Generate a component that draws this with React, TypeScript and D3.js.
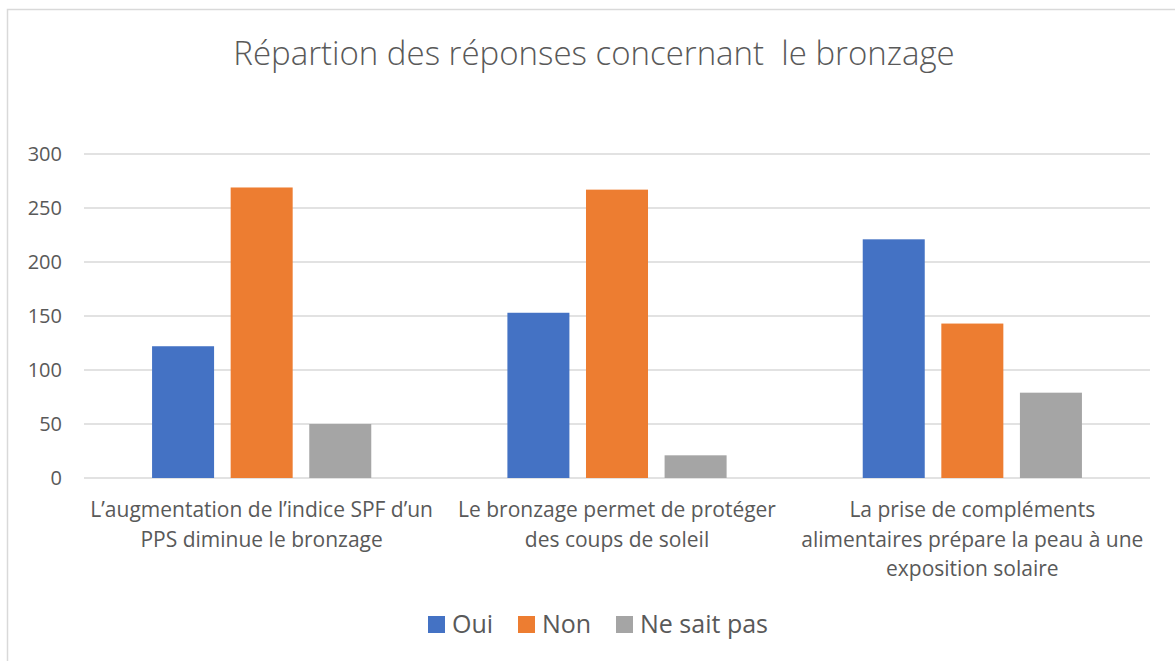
import React, { useRef, useEffect } from 'react';
import * as d3 from 'd3';

const W = 1175;
const H = 661;

const categories = [
  ["L’augmentation de l’indice SPF d’un", "PPS diminue le bronzage"],
  ["Le bronzage permet de protéger", "des coups de soleil"],
  ["La prise de compléments", "alimentaires prépare la peau à une", "exposition solaire"]
];
const seriesNames = ["Oui", "Non", "Ne sait pas"];
const oui = [122, 153, 221];
const non = [269, 267, 143];
const neSaitPas = [50, 21, 79];
const yTicks = [0, 50, 100, 150, 200, 250, 300];
const colors = ["#4472c4", "#ed7d31", "#a5a5a5"];

const FONT = "'Open Sans', 'Noto Sans', sans-serif";
const TEXT = "#595959";

const App = () => {
  const ref = useRef<SVGSVGElement>(null);

  useEffect(() => {
    const svg = d3.select(ref.current);
    svg.selectAll('*').remove();

    const plot = { left: 84, right: 1150, top: 154, bottom: 478 };
    const values = [oui, non, neSaitPas];
    const idx = categories.map((_, i) => i);

    const x = d3.scaleBand<number>().domain(idx).range([plot.left, plot.right]);
    const xInner = d3.scaleBand<number>()
      .domain([0, 1, 2])
      .range([0, x.bandwidth()])
      .paddingInner(0.211)
      .paddingOuter(0.866);
    const y = d3.scaleLinear().domain([0, 300]).range([plot.bottom, plot.top]);

    // chart frame
    svg.append('path')
      .attr('d', `M7.5,${H} V9.5 H${W}`)
      .attr('fill', 'none')
      .attr('stroke', '#d9d9d9')
      .attr('stroke-width', 1.5);

    svg.append('text')
      .attr('x', 594)
      .attr('y', 65)
      .attr('text-anchor', 'middle')
      .attr('font-family', FONT)
      .attr('font-weight', 300)
      .attr('font-size', 33)
      .attr('fill', TEXT)
      .style('white-space', 'pre')
      .text('Répartion des réponses concernant  le bronzage');

    // grid
    svg.append('g').selectAll('line')
      .data(yTicks)
      .enter().append('line')
      .attr('x1', plot.left)
      .attr('x2', plot.right)
      .attr('y1', d => y(d))
      .attr('y2', d => y(d))
      .attr('stroke', '#d9d9d9')
      .attr('stroke-width', 1.5);

    svg.append('g').selectAll('text')
      .data(yTicks)
      .enter().append('text')
      .attr('x', 62)
      .attr('y', d => y(d))
      .attr('dy', '0.36em')
      .attr('text-anchor', 'end')
      .attr('font-family', FONT)
      .attr('font-size', 20)
      .attr('fill', TEXT)
      .text(d => d);

    // bars
    values.forEach((vals, s) => {
      svg.append('g').selectAll('rect')
        .data(vals)
        .enter().append('rect')
        .attr('x', (d, i) => (x(i) as number) + (xInner(s) as number))
        .attr('y', d => y(d))
        .attr('width', xInner.bandwidth())
        .attr('height', d => y(0) - y(d))
        .attr('fill', colors[s]);
    });

    // category labels
    categories.forEach((lines, i) => {
      const cx = (x(i) as number) + x.bandwidth() / 2;
      svg.append('g').selectAll('text')
        .data(lines)
        .enter().append('text')
        .attr('x', cx)
        .attr('y', (d, j) => 517 + j * 29.5)
        .attr('text-anchor', 'middle')
        .attr('font-family', FONT)
        .attr('font-size', 21)
        .attr('fill', TEXT)
        .text(d => d);
    });

    // legend
    const legendX = [428, 518, 616];
    seriesNames.forEach((name, s) => {
      svg.append('rect')
        .attr('x', legendX[s])
        .attr('y', 616)
        .attr('width', 17)
        .attr('height', 17)
        .attr('fill', colors[s]);
      svg.append('text')
        .attr('x', legendX[s] + 24)
        .attr('y', 633)
        .attr('font-family', FONT)
        .attr('font-size', 25)
        .attr('fill', TEXT)
        .text(name);
    });
  }, []);

  return (
    <svg ref={ref} width={W} height={H}
      style={{ position: 'absolute', left: 0, top: 0, background: '#fff' }} />
  );
};

export default App;
